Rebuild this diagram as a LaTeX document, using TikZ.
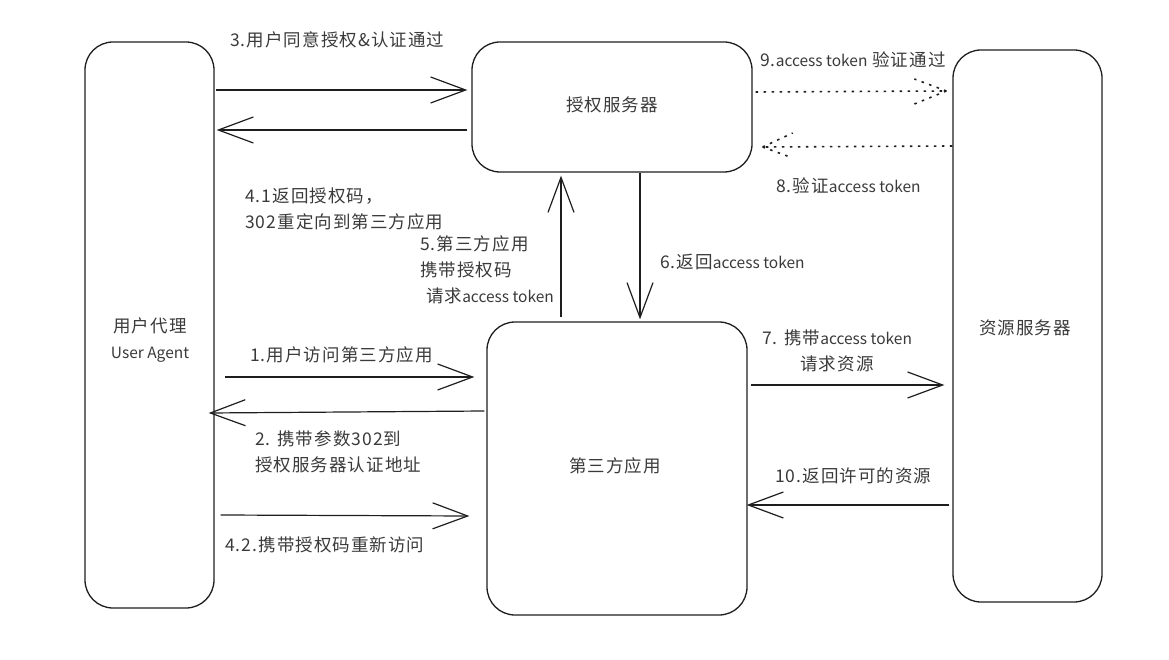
\documentclass[tikz,border=0pt]{standalone}
\usepackage{fontspec}
\setmainfont{Noto Sans CJK SC}[LetterSpace=6]
\newfontfamily\latnfont{Noto Sans CJK SC}
\usetikzlibrary{arrows.meta}
\definecolor{inkline}{RGB}{30,30,30}
\definecolor{inktext}{RGB}{58,58,58}
% Latin runs are set a little smaller and tighter than the Chinese text
\newcommand{\latn}[1]{{\latnfont\fontsize{15.5}{26}\selectfont #1}}
\begin{document}
\begin{tikzpicture}[x=1pt,y=-1pt,
  box/.style={draw=inkline, line width=1.3pt, rounded corners=28pt, inner sep=0pt},
  arr/.style={draw=inkline, line width=1.2pt,
    -{Straight Barb[length=35pt,width=26pt,line width=1.2pt]}},
  dots/.style={draw=inkline, line width=1.6pt, dash pattern=on 2.5pt off 5.5pt},
  lbl/.style={text=inktext, font=\fontsize{17.5}{26}\selectfont, inner sep=0pt},
]
\useasboundingbox (0,0) rectangle (1169,660);

% participants
\node[box, minimum width=129pt, minimum height=566pt] (ua)  at (149.5,325) {};
\node[box, minimum width=280pt, minimum height=130pt] (as)  at (612,107) {};
\node[box, minimum width=260pt, minimum height=293pt] (app) at (617,468.5) {};
\node[box, minimum width=149pt, minimum height=552pt] (rs)  at (1027.5,326) {};

\node[lbl, align=center] (ualbl) at (150,340) {用户代理\\\latn{User Agent}};
\node[lbl] (aslbl)  at (612,105) {授权服务器};
\node[lbl] (applbl) at (615,466) {第三方应用};
\node[lbl] (rslbl)  at (1025,328) {资源服务器};

% user agent <-> authorization server
\draw[arr] ([xshift=1pt]ua.east |- 0,90) -- ([xshift=-4pt]as.west |- 0,90);
\draw[arr] ([xshift=-4pt]as.west |- 0,130) -- ([xshift=2pt]ua.east |- 0,130);

% third-party app <-> authorization server
\draw[arr] ([yshift=4pt]app.north -| 561,0) -- ([yshift=-3pt]as.south -| 561,0);
\draw[arr] (as.south -| 640,0) -- ([yshift=2pt]app.north -| 640,0);

% user agent <-> third-party app
\draw[arr] ([xshift=10pt]ua.east |- 0,377) -- ([xshift=-12pt]app.west |- 0,377);
\draw[arr] ([xshift=-2pt]app.west |- 0,411) -- ([xshift=-6pt]ua.east |- 0,413);
\draw[arr] ([xshift=6pt]ua.east |- 0,515) -- ([xshift=-17pt]app.west |- 0,516);

% third-party app <-> resource server
\draw[arr] ([xshift=3pt]app.east |- 0,385) -- ([xshift=-8pt]rs.west |- 0,385);
\draw[arr] ([xshift=-3pt]rs.west |- 0,505) -- ([xshift=-1pt]app.east |- 0,505);

% authorization server <-> resource server (token check, dotted)
\coordinate (t9) at ([xshift=-6pt]rs.west |- 0,91);
\draw[dots] ([xshift=3pt]as.east |- 0,92) -- (t9);
\draw[dots] (t9) -- ++(-32,-12);
\draw[dots] (t9) -- ++(-32,13);
\coordinate (t8) at ([xshift=10pt]as.east |- 0,147);
\draw[dots] (rs.west |- 0,146) -- (t8);
\draw[dots] (t8) -- ++(30,-14);
\draw[dots] (t8) -- ++(30,11);

% step labels
\node[lbl, anchor=west] (l3)  at (230,40) {3.用户同意授权\&认证通过};
\node[lbl, anchor=west, align=left] (l41) at (245,209) {4.1返回授权码，\\302重定向到第三方应用};
\node[lbl, anchor=west, align=left] (l5)  at (420,270) {5.第三方应用\\携带授权码\\\hspace*{6pt}请求\latn{access token}};
\node[lbl, anchor=west] (l6)  at (660,262) {6.返回\latn{access token}};
\node[lbl, anchor=west] (l1)  at (250,355) {1.用户访问第三方应用};
\node[lbl, anchor=west, align=left] (l2)  at (255,452) {2. 携带参数302到\\授权服务器认证地址};
\node[lbl, anchor=west] (l42) at (225,545) {4.2.携带授权码重新访问};
\node[lbl, align=center] (l7) at (837,351) {7. 携带\latn{access token}\\请求资源};
\node[lbl, anchor=west] (l10) at (775,476) {10.返回许可的资源};
\node[lbl, anchor=west] (l9)  at (760,60) {9.\latn{access token} 验证通过};
\node[lbl, anchor=west] (l8)  at (776,186) {8.验证\latn{access token}};
\end{tikzpicture}
\end{document}
